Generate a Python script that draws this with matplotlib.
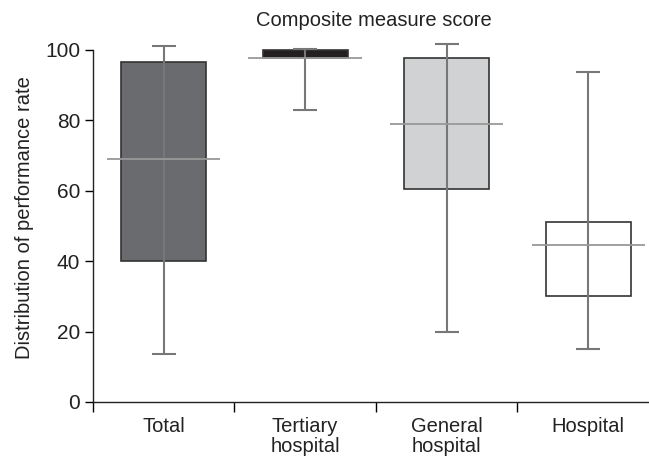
import numpy as np
import matplotlib.pyplot as plt

plt.rcParams['font.family'] = ['Liberation Sans', 'DejaVu Sans']

categories = ["Total", "Tertiary\nhospital", "General\nhospital", "Hospital"]
whisker_low = [13.5, 83.0, 20.0, 15.0]
box_low = [40.0, 97.8, 60.5, 30.0]
median = [69.0, 97.6, 79.0, 44.5]
box_high = [96.5, 100.0, 97.8, 51.0]
whisker_high = [101.0, 100.3, 101.8, 93.8]
box_colors = ["#6a6b6f", "#231f20", "#d1d2d4", "#ffffff"]

fig = plt.figure(figsize=(6.49, 4.57), dpi=100)
ax = fig.add_axes([0.143, 0.1204, 0.857, 0.8088])

x = np.arange(len(categories))
lo = np.array(box_low)
hi = np.array(box_high)

# boxes
ax.bar(x, hi - lo, bottom=lo, width=0.6, color=box_colors,
       edgecolor="#333333", linewidth=1.2, zorder=2)
# whiskers run through the box
ax.vlines(x, whisker_low, whisker_high, color="#777777", linewidth=1.5, zorder=3)
cap = 0.085
ax.hlines(whisker_low, x - cap, x + cap, color="#777777", linewidth=1.5, zorder=3)
ax.hlines(whisker_high, x - cap, x + cap, color="#777777", linewidth=1.5, zorder=3)
# medians
ax.hlines(median, x - 0.4, x + 0.4, color="#999999", linewidth=1.3, zorder=4)

ax.set_xlim(-0.5, 3.43)
ax.set_ylim(0, 105)
ax.set_yticks([0, 20, 40, 60, 80, 100])
ax.set_xticks(x)
ax.set_xticklabels(categories, fontsize=14.5, linespacing=1.08, color="#222222")
ax.set_xticks([-0.5, 0.5, 1.5, 2.5], minor=True)
ax.tick_params(axis='x', which='major', length=0, pad=11)
ax.tick_params(axis='x', which='minor', length=7, width=1, direction='out')
ax.tick_params(axis='y', labelsize=15, labelcolor="#222222", length=6, width=1,
               direction='out', pad=3)

for s in ["top", "right"]:
    ax.spines[s].set_visible(False)
for s in ["left", "bottom"]:
    ax.spines[s].set_linewidth(1.0)
    ax.spines[s].set_color("#222222")
ax.spines["left"].set_bounds(0, 100)

ax.set_ylabel("Distribution of performance rate", fontsize=14.5, labelpad=8,
              color="#222222")
fig.text(0.576, 0.956, "Composite measure score", ha="center", va="center",
         fontsize=14.5, color="#222222")

fig.savefig("out.png", dpi=100)
